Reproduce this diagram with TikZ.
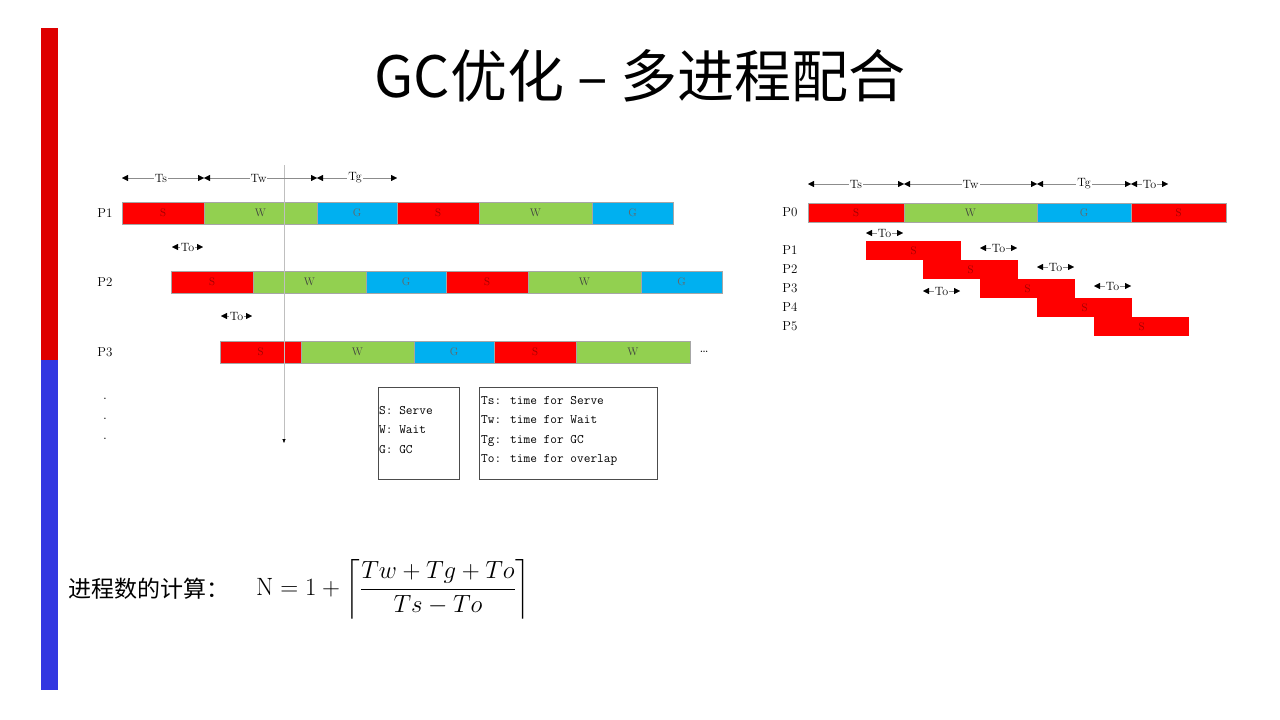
\documentclass[tikz,border=0pt]{standalone}
\usepackage{fontspec}
\usepackage{amsmath}
\newfontfamily\cjk{Noto Sans CJK SC}
\usetikzlibrary{arrows.meta}
\definecolor{cS}{RGB}{255,0,0}
\definecolor{cW}{RGB}{146,208,80}
\definecolor{cG}{RGB}{0,176,240}
\definecolor{sideR}{RGB}{222,0,0}
\definecolor{sideB}{RGB}{50,55,225}
\tikzset{
 seg/.style={draw=black!35,line width=0.3pt,font=\fontsize{11}{11}\selectfont},
 sS/.style={seg,fill=cS,text=red!60!black}, sW/.style={seg,fill=cW,text=black!75}, sG/.style={seg,fill=cG,text=black!60},
 plab/.style={font=\fontsize{13}{13}\selectfont},
 dim/.style={{Triangle[length=6pt,width=6pt,black]}-{Triangle[length=6pt,width=6pt,black]},line width=0.4pt,black!45},
 dlab/.style={font=\fontsize{12}{12}\selectfont,fill=white,inner sep=1pt,text=black},
 leg/.style={draw=black!70,line width=0.6pt}
}
\begin{document}
\begin{tikzpicture}[x=1pt,y=-1pt]
\useasboundingbox[fill=white] (0,0) rectangle (1280,720);
\fill[sideR] (41,28) rectangle (58,360);
\fill[sideB] (41,360) rectangle (58,690);
\node[font=\cjk\fontsize{57}{57}\selectfont] (title) at (640,76) {GC优化 – 多进程配合};
% left chart
\foreach \y/\n in {202/1,271/2,341/3}{
 \node[plab] (pl\n) at (105,\y+11) {P\n};
}
\def\ganttrow#1#2{%
 \foreach \a/\b/\t in {#2}{\draw[s\t] (\a,#1) rectangle (\b,#1+22) node[midway]{\t};}}
\ganttrow{202}{122/204/S,204/317/W,317/397/G,397/479/S,479/592/W,592/673/G}
\ganttrow{271}{171/253/S,253/366/W,366/446/G,446/528/S,528/641/W,641/722/G}
\ganttrow{341}{220/301/S,301/414/W,414/494/G,494/576/S,576/690/W}
\node[font=\fontsize{14}{14}\selectfont] (dots) at (704,352) {\dots};
\coordinate (vt) at (284,165); \coordinate (vb) at (284,443);
\draw[black!25,line width=0.4pt,-{Triangle[length=4pt,width=3pt,black]}] (vt) -- (vb);
\foreach \a/\b/\t in {122/204/Ts,204/317/Tw,317/397/Tg}{
 \coordinate (la\a) at (\a,178); \coordinate (lb\a) at (\b,178);
 \draw[dim] (la\a) -- (lb\a) node[dlab,midway,xshift=-2pt]{\t};}
\coordinate (o1a) at (172,247); \coordinate (o1b) at (203,247);
\draw[dim] (o1a) -- (o1b) node[dlab,midway]{To};
\coordinate (o2a) at (221,316); \coordinate (o2b) at (252,316);
\draw[dim] (o2a) -- (o2b) node[dlab,midway]{To};
\foreach \y in {402,422,442} \node[font=\fontsize{14}{14}\selectfont] at (105,\y-3) {.};
\draw[leg] (378,387) rectangle (459,479);
\node[anchor=north west,align=left,font=\ttfamily\fontsize{13}{19.5}\selectfont,inner sep=0pt] (lg1) at (379,406) {S: Serve\\W: Wait\\G: GC};
\draw[leg] (479,387) rectangle (657,479);
\node[anchor=north west,align=left,font=\ttfamily\fontsize{13}{19.5}\selectfont,inner sep=0pt] (lg2) at (481,396) {Ts: time for Serve\\Tw: time for Wait\\Tg: time for GC\\To: time for overlap};
% right chart
\foreach \n/\y in {0/212,1/250,2/269,3/288,4/307,5/326}\node[plab] (pr\n) at (790,\y) {P\n};
\foreach \a/\b/\t in {808/904/S,904/1037/W,1037/1131/G,1131/1226/S}
 \draw[s\t] (\a,203) rectangle (\b,222) node[midway]{\t};
\foreach \a/\y in {866/241,923/260,980/279,1037/298,1094/317}
 \draw[sS,draw=none] (\a,\y) rectangle (\a+95,\y+19) node[midway]{S};
\foreach \a/\b/\t in {808/904/Ts,904/1037/Tw,1037/1131/Tg,1131/1168/To}{
 \coordinate (ra\a) at (\a,184); \coordinate (rb\a) at (\b,184);
 \draw[dim] (ra\a) -- (rb\a) node[dlab,midway]{\t};}
\foreach \a/\y in {866/233,980/248,1037/267,1094/286,923/291}{
 \coordinate (qa\a) at (\a,\y); \coordinate (qb\a) at (\a+37,\y);
 \draw[dim] (qa\a) -- (qb\a) node[dlab,midway]{To};}
% formula
\node[anchor=west,font=\cjk\fontsize{23}{23}\selectfont,inner sep=0pt] (fl) at (68,589) {进程数的计算：};
\node[anchor=west,inner sep=0pt,font=\fontsize{25}{25}\selectfont] (fm) at (256,589) {$\mathrm{N}=1+\left\lceil\dfrac{Tw+Tg+To}{Ts-To}\right\rceil$};
\end{tikzpicture}
\end{document}
